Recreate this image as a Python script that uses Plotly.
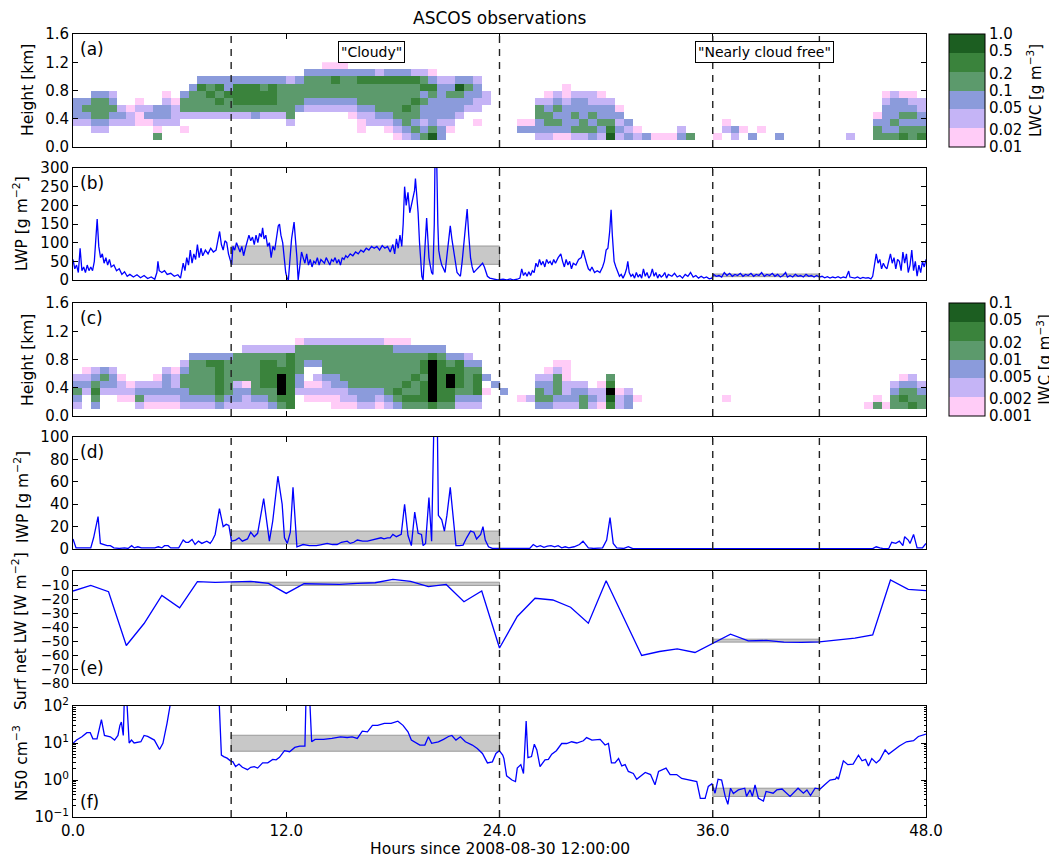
import numpy as np
import plotly.graph_objects as go

# ---------------- data ----------------
hours_ticks = [0, 12, 24, 36, 48]
period_edges = [8.9, 24.0, 36.0, 42.0]
cloudy_period = (8.9, 24.0)
clear_period = (36.0, 42.0)

lwc_levels = ["0.01", "0.02", "0.05", "0.1", "0.2", "0.5", "1.0"]
iwc_levels = ["0.001", "0.002", "0.005", "0.01", "0.02", "0.05", "0.1"]
band_colors = ["#ffccf7", "#c5b4f6", "#8b9bdb", "#5c9a6c", "#3a833c", "#1c5e21"]

col_hours = 0.5    # width of one time bin
row_km = 0.1       # height of one level
# LWC category per 0.5 h column, levels from the ground up (0.1 km each)
# '.' none, 1..6 = colour bands
lwc_cols = [
    "...2333.....", "...2343.....", "..234443....", "..234443....", "...23432....", "...232......",
    "...221......", "...1121.....", "...132......", ".41233......", "...23321....", "...2221.....",
    "..1.2443....", "....24443...", "....244453..", "....244543..", "....245453..", "....244533..",
    "....245553..", "....245553..", "....345553..", "....245543..", "....245553..", "....244443..",
    "...2444442..", ".....34443..", ".....234443.", ".....234443.", ".....2344431", ".....2344531",
    ".....2344431", "....1234443.", "..112344453.", "...22344453.", "...23444452.", "..123444453.",
    ".1234444453.", ".2344544453.", ".3434454452.", ".4323343542.", ".6433334531.", ".332333332..",
    "..12333432..", "....233463..", ".....23343..", "...1.22332..", "......22....", "............",
    "............", "............", "..31........", "..31........", ".233442.....", ".2344321....",
    ".1343432....", ".13333211...", ".2434332....", ".2443332....", ".3434322....", ".2343321....",
    ".654332.....", ".23231......", ".323........", ".21.........", ".3..........", ".1..........",
    ".1..........", ".1..........", ".32.........", ".4..........", "............", "............",
    ".1..........", "..21........", ".23.........", "..1.........", ".3..........", "..1.........",
    "............", ".3..........", "............", "............", "............", "............",
    "............", "............", "............", ".2..........", "............", "............",
    ".4431.......", ".4333321....", ".4343332....", ".5434331....", ".4434321....", ".543322.....",
]
# IWC category per column ('7' = above the top band, drawn black)
iwc_cols = [
    ".23432......", "...2321.....", ".345432.....", "...2343.....", "...2332.....", "..1221......",
    "..121.......", ".2432.......", ".1232.......", ".12321......", ".123332.....", ".123221.....",
    ".2334432....", ".23444443...", ".23444443...", ".23444453...", ".34555553...", ".23444443...",
    ".23324444...", ".223144442..", ".234444442..", ".234555542..", ".344555542..", ".457775442..",
    ".555555552..", "...23344441.", "..121..3442.", "..1212.3442.", "..122344442.", ".1123344442.",
    ".1223444442.", ".1234444442.", ".2334444442.", ".2334444442.", ".1234444442.", ".2344444441.",
    ".3454444431.", ".4545444431.", ".454454443..", ".455545543..", ".577777753..", ".455555543..",
    ".45577543...", ".23455553...", ".23444432...", ".2355543....", "...1.3......", "....3.......",
    "...3........", "............", "..1.........", "..2.........", ".34432......", ".343321.....",
    ".2344421....", ".2322111....", ".2332.......", ".4432.......", ".232........", ".1221.......",
    ".56754......", ".221........", ".332........", "..1.........", "............", "............",
    "............", "............", "............", "............", "............", "............",
    "............", "..1.........", "............", "............", "............", "............",
    "............", "............", "............", "............", "............", "............",
    "............", "............", "............", "............", "............", ".1..........",
    ".41.........", ".1..........", ".4432.......", ".45431......", ".54432......", ".4432.......",
]

lwp_pairs = [
    (0.0, 55), (0.1, 30), (0.2, 40), (0.3, 20), (0.4, 85), (0.5, 25), (0.6, 35), (0.7, 20), (0.8, 40),
    (0.9, 25), (1.0, 35), (1.1, 25), (1.2, 50), (1.3, 120), (1.36, 163), (1.45, 90), (1.55, 60),
    (1.65, 70), (1.75, 45), (1.85, 60), (1.95, 40), (2.05, 55), (2.15, 35), (2.3, 40), (2.45, 25),
    (2.6, 30), (2.75, 15), (2.9, 22), (3.05, 10), (3.2, 15), (3.4, 8), (3.6, 14), (3.8, 6), (4.0, 12),
    (4.2, 4), (4.4, 8), (4.6, 2), (4.72, 20), (4.78, 50), (4.85, 25), (5.0, 20), (5.15, 25), (5.3, 15),
    (5.5, 18), (5.7, 10), (5.9, 14), (6.05, 5), (6.2, 45), (6.3, 25), (6.4, 60), (6.5, 40), (6.6, 80),
    (6.7, 45), (6.8, 70), (6.9, 55), (7.0, 95), (7.1, 60), (7.2, 85), (7.3, 65), (7.45, 80), (7.6, 70),
    (7.75, 85), (7.9, 75), (8.05, 80), (8.15, 110), (8.25, 130), (8.35, 95), (8.45, 80), (8.55, 105),
    (8.65, 100), (8.75, 70), (8.85, 55), (8.93, 40), (9.0, 90), (9.1, 80), (9.2, 100), (9.3, 85),
    (9.4, 75), (9.5, 90), (9.6, 65), (9.7, 85), (9.8, 100), (9.9, 120), (10.0, 105), (10.1, 115),
    (10.2, 95), (10.3, 120), (10.4, 100), (10.5, 125), (10.6, 115), (10.67, 140), (10.75, 110),
    (10.85, 120), (10.95, 90), (11.05, 100), (11.15, 60), (11.25, 90), (11.35, 80), (11.45, 120),
    (11.55, 145), (11.62, 150), (11.7, 120), (11.8, 100), (11.9, 60), (11.97, 20), (12.05, 5),
    (12.12, 0), (12.2, 50), (12.3, 110), (12.44, 155), (12.52, 110), (12.6, 60), (12.67, 0),
    (12.75, 30), (12.86, 75), (12.95, 60), (13.05, 45), (13.15, 70), (13.25, 40), (13.35, 55),
    (13.45, 35), (13.55, 50), (13.65, 45), (13.75, 60), (13.85, 40), (13.95, 55), (14.05, 50),
    (14.15, 45), (14.25, 60), (14.35, 50), (14.45, 40), (14.55, 55), (14.65, 50), (14.75, 60),
    (14.85, 45), (14.95, 55), (15.05, 40), (15.15, 60), (15.25, 55), (15.35, 65), (15.45, 60),
    (15.6, 70), (15.75, 65), (15.9, 75), (16.05, 70), (16.2, 80), (16.35, 75), (16.5, 85), (16.65, 80),
    (16.8, 90), (16.95, 85), (17.1, 90), (17.25, 80), (17.4, 92), (17.55, 85), (17.7, 90), (17.85, 75),
    (18.0, 95), (18.1, 70), (18.2, 110), (18.3, 85), (18.4, 120), (18.5, 90), (18.58, 150),
    (18.66, 250), (18.75, 200), (18.85, 235), (18.95, 180), (19.05, 200), (19.14, 225), (19.22, 240),
    (19.27, 272), (19.35, 220), (19.42, 180), (19.5, 100), (19.57, 50), (19.63, 10), (19.7, 0),
    (19.8, 80), (19.9, 166), (19.97, 110), (20.03, 60), (20.1, 40), (20.18, 20), (20.25, 15),
    (20.33, 150), (20.37, 320), (20.47, 310), (20.53, 150), (20.58, 80), (20.65, 60), (20.75, 40),
    (20.85, 30), (20.94, 20), (21.03, 60), (21.13, 100), (21.23, 145), (21.32, 110), (21.42, 80),
    (21.52, 40), (21.61, 20), (21.7, 15), (21.8, 10), (21.9, 50), (21.99, 100), (22.1, 150),
    (22.18, 190), (22.27, 120), (22.37, 60), (22.46, 35), (22.55, 20), (22.65, 25), (22.75, 30),
    (22.85, 35), (22.95, 40), (23.05, 45), (23.15, 35), (23.25, 20), (23.32, 10), (23.45, 5),
    (23.6, 3), (23.75, 0), (23.9, 0), (24.2, 2), (24.4, 0), (24.6, 3), (24.8, 0), (25.0, 2), (25.15, 5),
    (25.25, 30), (25.35, 12), (25.45, 20), (25.55, 10), (25.65, 22), (25.75, 12), (25.85, 25),
    (25.95, 20), (26.05, 45), (26.15, 35), (26.25, 55), (26.35, 40), (26.45, 50), (26.55, 35),
    (26.65, 55), (26.75, 45), (26.85, 50), (26.95, 40), (27.05, 55), (27.15, 45), (27.3, 60),
    (27.45, 70), (27.55, 50), (27.65, 35), (27.75, 55), (27.85, 40), (27.95, 50), (28.05, 30),
    (28.15, 45), (28.3, 40), (28.45, 55), (28.6, 60), (28.7, 80), (28.8, 60), (28.9, 45), (29.0, 30),
    (29.1, 25), (29.2, 35), (29.35, 20), (29.5, 25), (29.65, 20), (29.8, 35), (29.9, 50), (30.0, 80),
    (30.1, 85), (30.2, 130), (30.28, 188), (30.35, 120), (30.45, 50), (30.55, 35), (30.65, 20),
    (30.75, 10), (30.85, 15), (30.95, 5), (31.05, 15), (31.15, 30), (31.22, 50), (31.3, 20),
    (31.4, 10), (31.5, 15), (31.6, 5), (31.7, 20), (31.8, 8), (31.9, 15), (32.0, 5), (32.1, 30),
    (32.2, 10), (32.3, 20), (32.4, 5), (32.5, 12), (32.6, 30), (32.7, 10), (32.8, 20), (32.9, 5),
    (33.0, 15), (33.1, 8), (33.2, 12), (33.3, 20), (33.4, 5), (33.5, 15), (33.7, 10), (33.85, 18),
    (34.0, 8), (34.15, 12), (34.3, 5), (34.45, 15), (34.6, 10), (34.75, 20), (34.9, 8), (35.05, 12),
    (35.2, 5), (35.35, 10), (35.5, 5), (35.65, 8), (35.8, 3), (35.95, 5), (36.05, 15), (36.2, 10),
    (36.35, 12), (36.5, 8), (36.65, 20), (36.8, 12), (36.95, 18), (37.1, 10), (37.25, 15), (37.4, 12),
    (37.55, 18), (37.7, 10), (37.85, 15), (38.0, 12), (38.15, 18), (38.3, 10), (38.45, 15), (38.6, 12),
    (38.75, 20), (38.9, 10), (39.05, 15), (39.2, 12), (39.35, 18), (39.5, 10), (39.65, 15), (39.8, 8),
    (39.95, 12), (40.1, 20), (40.2, 8), (40.35, 12), (40.5, 8), (40.65, 15), (40.8, 10), (40.95, 12),
    (41.1, 8), (41.25, 15), (41.4, 10), (41.55, 12), (41.7, 8), (41.85, 12), (42.0, 8), (42.15, 10),
    (42.3, 6), (42.45, 9), (42.6, 5), (42.75, 8), (42.9, 6), (43.05, 9), (43.2, 5), (43.35, 8),
    (43.5, 6), (43.65, 24), (43.72, 8), (43.85, 7), (44.0, 5), (44.15, 8), (44.3, 4), (44.45, 7),
    (44.6, 5), (44.75, 6), (44.9, 3), (45.0, 10), (45.1, 40), (45.2, 70), (45.3, 45), (45.4, 55),
    (45.5, 30), (45.6, 45), (45.7, 35), (45.8, 30), (45.9, 50), (46.0, 70), (46.1, 45), (46.2, 60),
    (46.3, 30), (46.4, 55), (46.5, 50), (46.6, 25), (46.7, 75), (46.8, 45), (46.9, 70), (47.0, 20),
    (47.1, 40), (47.2, 80), (47.3, 25), (47.4, 50), (47.5, 10), (47.6, 40), (47.7, 20), (47.8, 50),
    (47.9, 35), (48.0, 55),
]

iwp_pairs = [
    (0.0, 9), (0.17, 1), (0.6, 1), (1.0, 1), (1.16, 10), (1.41, 29), (1.54, 5), (1.73, 4), (1.92, 3),
    (2.1, 3), (2.3, 1), (2.6, 0.5), (2.9, 1), (3.1, 0.5), (3.3, 3), (3.45, 1), (3.65, 2), (3.85, 1),
    (4.1, 1), (4.35, 0.5), (4.6, 1), (4.8, 2), (5.0, 1), (5.15, 3), (5.35, 3), (5.5, 1), (5.75, 1),
    (5.95, 1), (6.2, 8), (6.35, 6), (6.5, 6), (6.7, 8.5), (6.87, 4), (7.06, 7), (7.25, 5), (7.4, 6),
    (7.53, 7), (7.72, 5), (7.85, 8), (8.0, 13), (8.24, 36), (8.45, 20), (8.62, 22), (8.77, 21),
    (8.92, 7), (9.15, 8), (9.34, 10), (9.53, 7), (9.7, 8), (9.82, 9), (10.0, 15), (10.2, 11),
    (10.39, 14), (10.73, 45), (11.05, 7), (11.24, 25), (11.53, 65), (11.77, 40), (11.9, 10),
    (12.06, 5), (12.23, 15), (12.38, 55), (12.6, 2), (12.95, 4), (13.3, 3), (13.7, 3), (14.0, 4),
    (14.3, 5), (14.6, 4), (14.86, 4), (15.1, 6), (15.43, 7), (15.6, 5), (15.8, 6), (16.0, 8),
    (16.3, 7), (16.57, 7), (16.8, 8), (16.95, 8), (17.15, 9), (17.33, 10), (17.5, 9), (17.7, 10),
    (17.85, 10), (18.0, 13), (18.2, 11), (18.47, 13), (18.66, 40), (18.85, 12), (19.04, 3),
    (19.23, 33), (19.42, 14), (19.61, 13), (19.7, 3), (19.84, 5), (20.03, 46), (20.18, 7),
    (20.33, 130), (20.49, 130), (20.56, 30), (20.75, 26), (20.9, 16), (21.04, 30), (21.23, 55),
    (21.42, 25), (21.55, 3), (21.75, 3), (21.95, 3.5), (22.15, 10), (22.37, 16), (22.56, 15),
    (22.71, 9), (22.94, 13), (23.07, 20), (23.2, 8), (23.38, 2), (23.6, 0.5), (24.0, 0.5),
    (25.7, 0.5), (25.9, 4), (26.1, 2), (26.3, 3), (26.5, 1.5), (26.7, 2.5), (26.9, 3), (27.1, 2),
    (27.3, 3), (27.5, 1), (27.7, 2), (27.9, 1), (28.2, 2), (28.5, 4), (28.7, 7), (29.0, 1),
    (29.3, 0.5), (29.8, 1), (30.03, 8), (30.22, 28), (30.4, 5), (30.6, 1), (31.0, 0.5), (31.25, 2),
    (31.5, 0.3), (45.0, 0.3), (45.2, 2), (45.4, 1), (45.6, 0.3), (45.9, 0.3), (46.07, 6), (46.3, 5),
    (46.5, 7), (46.7, 3), (46.8, 11), (47.0, 8), (47.1, 5), (47.3, 13), (47.5, 1), (47.8, 1),
    (48.0, 5),
]

lw_hours = list(range(0, 49))
lw_values = [-14.3, -10.3, -14.8, -53.2, -37.5, -17.4, -26.3, -7.6, -8.1, -7.9, -7.4, -8.8, -16.0,
             -9.1, -9.6, -9.6, -8.8, -8.4, -6.0, -7.4, -11.2, -9.6, -22.0, -14.3, -55.0, -32.5,
             -19.5, -20.7, -25.9, -37.3, -6.9, -33.7, -60.3, -57.5, -55.6, -58.2, -51.5, -45.1,
             -49.9, -49.6, -50.8, -51.0, -50.6, -49.4, -48.0, -45.6, -6.4, -13.1, -14.0]

n50_pairs = [
    (0.0, 9.8), (0.2, 12), (0.5, 14.7), (0.78, 19), (0.97, 19), (1.12, 13), (1.35, 13), (1.6, 43),
    (1.77, 16), (2.1, 14.7), (2.34, 12), (2.53, 16), (2.64, 30), (2.72, 37), (2.83, 16), (2.9, 250),
    (3.0, 250), (3.16, 10), (3.29, 12), (3.44, 10), (3.82, 10.8), (4.0, 16), (4.2, 15), (4.58, 12),
    (4.87, 6.7), (5.06, 9.8), (5.29, 34), (5.6, 250), (8.2, 250), (8.35, 4.7), (8.48, 4.3),
    (8.67, 3.9), (8.86, 3.3), (9.0, 3.1), (9.15, 2.3), (9.34, 2.7), (9.53, 2.2), (9.82, 1.9),
    (10.0, 2.2), (10.2, 2.3), (10.39, 2.1), (10.67, 2.9), (10.96, 2.9), (11.24, 3.6), (11.43, 3.5),
    (11.62, 4.1), (11.9, 6.2), (12.19, 5.8), (12.48, 7.6), (12.76, 8.2), (13.05, 8.2), (13.12, 250),
    (13.3, 250), (13.43, 10.8), (13.62, 12.5), (14.1, 12.5), (14.57, 13.3), (15.05, 14.7),
    (15.43, 14.1), (15.71, 14.7), (16.0, 13.3), (16.28, 21), (16.57, 20), (16.85, 30), (17.14, 30),
    (17.52, 34), (17.9, 34), (18.28, 39), (18.57, 30), (18.85, 20), (19.04, 12), (19.33, 10),
    (19.52, 8.8), (19.8, 8.8), (20.0, 14.7), (20.18, 9.8), (20.56, 10.8), (20.85, 12.5), (21.13, 15),
    (21.32, 16), (21.55, 12), (21.8, 14.7), (22.08, 10.8), (22.47, 8.8), (22.75, 7.1), (23.04, 5.2),
    (23.32, 2.9), (23.6, 3.1), (23.8, 5.2), (23.99, 6.2), (24.18, 4.7), (24.25, 3.8), (24.4, 1.3),
    (24.7, 1.0), (24.9, 0.91), (25.0, 2.1), (25.2, 2.6), (25.35, 1.5), (25.5, 39), (25.6, 4.0),
    (25.8, 4.3), (25.96, 9.3), (26.1, 6.5), (26.28, 2.3), (26.56, 3.5), (26.75, 3.6), (26.94, 5.0),
    (27.2, 6.2), (27.5, 9.7), (27.78, 9.7), (28.06, 10.8), (28.35, 10), (28.72, 11.5), (28.9, 14),
    (29.2, 12), (29.66, 12.5), (29.94, 8.8), (30.13, 9.7), (30.3, 2.9), (30.5, 2.9), (30.7, 3.8),
    (30.88, 2.4), (31.07, 2.6), (31.25, 1.7), (31.53, 1.5), (31.72, 1.05), (32.0, 1.3), (32.2, 1.6),
    (32.5, 1.4), (32.75, 0.74), (32.95, 1.7), (33.13, 1.9), (33.37, 2.1), (33.6, 1.4), (33.97, 1.4),
    (34.25, 1.1), (34.5, 1.05), (34.8, 1.0), (35.1, 0.91), (35.3, 0.32), (35.57, 0.32), (35.75, 0.67),
    (35.95, 0.79), (36.13, 0.44), (36.3, 1.05), (36.5, 1.0), (36.7, 0.36), (36.85, 0.22), (37.0, 0.6),
    (37.16, 0.43), (37.44, 0.54), (37.8, 0.6), (37.9, 0.36), (38.1, 0.54), (38.23, 0.36),
    (38.38, 0.74), (38.57, 0.32), (38.85, 0.27), (39.0, 0.49), (39.4, 0.44), (39.6, 0.54),
    (39.9, 0.57), (40.35, 0.36), (40.8, 0.6), (41.1, 0.44), (41.3, 0.54), (41.5, 0.38), (41.76, 0.6),
    (42.04, 0.57), (42.3, 0.74), (42.6, 1.0), (42.9, 1.05), (42.98, 1.2), (43.07, 1.05), (43.35, 3.3),
    (43.6, 2.6), (43.9, 2.7), (44.2, 4.7), (44.4, 3.3), (44.6, 3.6), (44.76, 2.4), (44.95, 3.8),
    (45.2, 2.9), (45.4, 3.5), (45.7, 6.5), (45.9, 5.0), (46.2, 6.5), (46.5, 8.3), (46.9, 10.8),
    (47.3, 11.5), (47.57, 15), (48.0, 17.3),
]

# period-mean ranges (grey boxes)
lwp_band_cloudy = (42, 91)
lwp_band_clear = (9, 16)
iwp_band_cloudy = (4.5, 16)
lw_band_cloudy = (-10.3, -8.0)
lw_band_clear = (-50.8, -48.7)
n50_band_cloudy = (6.0, 16.2)
n50_band_clear = (0.36, 0.6)

# ---------------- layout helpers ----------------
W, H = 1057, 862
OFF = 8  # the page shows the figure offset by the body margin
FONT = "DejaVu Sans"
def px_x(x):
    return (x - OFF) / W
def px_y(y):
    return 1 - (y - OFF) / H

x_dom = [px_x(73), px_x(926)]
panel_px = {"a": (34, 147), "b": (168, 280), "c": (303, 416),
            "d": (437, 549), "e": (571, 683), "f": (706, 817)}
def ydom(k):
    t, b = panel_px[k]
    return [px_y(b), px_y(t)]

axis_ids = {"a": "", "b": "2", "c": "3", "d": "4", "e": "5", "f": "6"}

def step_scale(colors):
    n = len(colors)
    cs = []
    for i, c in enumerate(colors):
        cs.append([i / n, c])
        cs.append([(i + 1) / n, c])
    return cs

def build_grid(cols):
    nrow = 12
    z = np.full((nrow, len(cols)), np.nan)
    zb = np.full((nrow, len(cols)), np.nan)
    for i, s in enumerate(cols):
        s = s.ljust(nrow, ".")[:nrow]
        for j, ch in enumerate(s):
            if ch in "123456":
                z[j, i] = int(ch) - 0.5
            elif ch == "7":
                zb[j, i] = 1
    return z, zb

fig = go.Figure()

def add_cloud(cols, levels, k, title):
    z, zb = build_grid(cols)
    xc = (np.arange(len(cols)) + 0.5) * col_hours
    yc = (np.arange(12) + 0.5) * row_km
    vals = np.array([float(v) for v in levels])
    tickpos = np.round(3 * np.log10(vals / vals[0]), 4)
    tickpos[-1] = 5.999
    tickpos[0] = 0.001
    t, b = panel_px[k]
    ax = axis_ids[k]
    fig.add_trace(go.Heatmap(
        x=xc, y=yc, z=z, zmin=0, zmax=6, colorscale=step_scale(band_colors),
        xaxis="x" + ax, yaxis="y" + ax, hoverinfo="skip",
        colorbar=dict(
            x=px_x(949), xanchor="left", xpad=0, ypad=0,
            y=px_y((t + b) / 2), yanchor="middle", len=(b - t) / H, lenmode="fraction",
            thickness=36, thicknessmode="pixels", outlinewidth=1, outlinecolor="black",
            tickvals=list(tickpos), ticktext=levels, ticks="",
            tickfont=dict(family=FONT, size=15, color="black"),
            title=dict(text=title, side="right", font=dict(family=FONT, size=15, color="black")),
        ),
    ))
    if np.isfinite(zb).any():
        fig.add_trace(go.Heatmap(
            x=xc, y=yc, z=zb, zmin=0, zmax=1, colorscale=[[0, "black"], [1, "black"]],
            showscale=False, xaxis="x" + ax, yaxis="y" + ax, hoverinfo="skip"))

add_cloud(lwc_cols, lwc_levels, "a", "LWC [g m<sup>−3</sup>]")
add_cloud(iwc_cols, iwc_levels, "c", "IWC [g m<sup>−3</sup>]")

def add_line(xs, ys, k):
    ax = axis_ids[k]
    fig.add_trace(go.Scatter(x=xs, y=ys, mode="lines", line=dict(color="#0000ff", width=1.3),
                             xaxis="x" + ax, yaxis="y" + ax, hoverinfo="skip"))

add_line([p[0] for p in lwp_pairs], [p[1] for p in lwp_pairs], "b")
add_line([p[0] for p in iwp_pairs], [p[1] for p in iwp_pairs], "d")
add_line(lw_hours, lw_values, "e")
add_line([p[0] for p in n50_pairs], [p[1] for p in n50_pairs], "f")

shapes = []
def band(k, period, rng):
    ax = axis_ids[k]
    shapes.append(dict(type="rect", xref="x" + ax, yref="y" + ax, x0=period[0], x1=period[1],
                       y0=rng[0], y1=rng[1], fillcolor="#c8c8c8", layer="below",
                       line=dict(color="#9a9a9a", width=1)))

band("b", cloudy_period, lwp_band_cloudy)
band("b", clear_period, lwp_band_clear)
band("d", cloudy_period, iwp_band_cloudy)
band("e", cloudy_period, lw_band_cloudy)
band("e", clear_period, lw_band_clear)
band("f", cloudy_period, n50_band_cloudy)
band("f", clear_period, n50_band_clear)

for k in "abcdef":
    ax = axis_ids[k]
    for e in period_edges:
        shapes.append(dict(type="line", xref="x" + ax, yref=("y" + ax) + " domain",
                           x0=e, x1=e, y0=0, y1=1, layer="above",
                           line=dict(color="#222222", width=1.4, dash="7px,6px")))

layout = dict(
    width=W, height=H, margin=dict(l=0, r=0, t=0, b=0),
    paper_bgcolor="white", plot_bgcolor="white", showlegend=False,
    font=dict(family=FONT, size=15, color="black"), shapes=shapes,
)

y_specs = {
    "a": dict(range=[0, 1.6], tickvals=[0, 0.4, 0.8, 1.2, 1.6], tickformat=".1f"),
    "b": dict(range=[0, 300], dtick=50, tick0=0),
    "c": dict(range=[0, 1.6], tickvals=[0, 0.4, 0.8, 1.2, 1.6], tickformat=".1f"),
    "d": dict(range=[0, 100], dtick=20, tick0=0),
    "e": dict(range=[-80, 0], dtick=10, tick0=0),
    "f": dict(type="log", range=[-1, 2], tickvals=[0.1, 1, 10, 100],
              ticktext=["10<sup>−1</sup>", "10<sup>0</sup>", "10<sup>1</sup>", "10<sup>2</sup>"],
              minor=dict(ticks="inside", ticklen=2.5, tickcolor="black",
                         tickvals=[0.2, 0.3, 0.4, 0.5, 0.6, 0.7, 0.8, 0.9,
                                   2, 3, 4, 5, 6, 7, 8, 9, 20, 30, 40, 50, 60, 70, 80, 90])),
}

for k in "abcdef":
    ax = axis_ids[k]
    xname = "xaxis" + ax
    yname = "yaxis" + ax
    layout[xname] = dict(
        domain=x_dom, anchor="y" + ax, range=[0, 48], tickvals=hours_ticks,
        ticktext=[f"{v:.1f}" for v in hours_ticks], showticklabels=(k == "f"),
        ticks="inside", ticklen=5, tickcolor="black", showline=True, linecolor="black",
        linewidth=1, mirror="ticks", showgrid=False, zeroline=False, automargin=False,
        tickfont=dict(family=FONT, size=15, color="black"),
    )
    yd = dict(domain=ydom(k), anchor="x" + ax, ticks="inside", ticklen=5, tickcolor="black",
              showline=True, linecolor="black", linewidth=1, mirror="ticks", showgrid=False,
              zeroline=False, automargin=False,
              tickfont=dict(family=FONT, size=(13.5 if k == "e" else 15), color="black"))
    yd.update(y_specs[k])
    layout[yname] = yd

fig.update_layout(**layout)

ann = []
ann.append(dict(text="ASCOS observations", x=px_x(499.5), y=px_y(18), xref="paper", yref="paper",
                showarrow=False, font=dict(size=17), xanchor="center", yanchor="middle"))
ann.append(dict(text="Hours since 2008-08-30 12:00:00", x=px_x(499.5), y=px_y(849), xref="paper",
                yref="paper", showarrow=False, font=dict(size=15.5), xanchor="center", yanchor="middle"))

ylabels = {"a": ("Height [km]", 28), "b": ("LWP [g m<sup>−2</sup>]", 21),
           "c": ("Height [km]", 28), "d": ("IWP [g m<sup>−2</sup>]", 21),
           "e": ("Surf net LW [W m<sup>−2</sup>]", 19), "f": ("N50 cm<sup>−3</sup>", 20)}
ycent = {"a": 90, "b": 224, "c": 360, "d": 497, "e": 631, "f": 763}
for k, (txt, xp) in ylabels.items():
    ann.append(dict(text=txt, x=px_x(xp), y=px_y(ycent[k]), xref="paper", yref="paper",
                    showarrow=False, textangle=-90, font=dict(size=15.5),
                    xanchor="center", yanchor="middle"))

for k in "abcdef":
    ax = axis_ids[k]
    bottom = k in "ef"
    ann.append(dict(text=f"({k})", xref=("x" + ax) + " domain", yref=("y" + ax) + " domain",
                    x=0.006, y=(0.03 if bottom else 0.97), xanchor="left",
                    yanchor=("bottom" if bottom else "top"), showarrow=False, font=dict(size=17)))

ann.append(dict(text="\"Cloudy\"", xref="x", yref="y", x=16.8, y=1.35, showarrow=False,
                font=dict(size=14), bordercolor="black", borderwidth=1, borderpad=2, bgcolor="white"))
ann.append(dict(text="\"Nearly cloud free\"", xref="x", yref="y", x=38.9, y=1.34, showarrow=False,
                font=dict(size=14), bordercolor="black", borderwidth=1, borderpad=2, bgcolor="white"))

fig.update_layout(annotations=ann)
fig.write_html("out.html")
